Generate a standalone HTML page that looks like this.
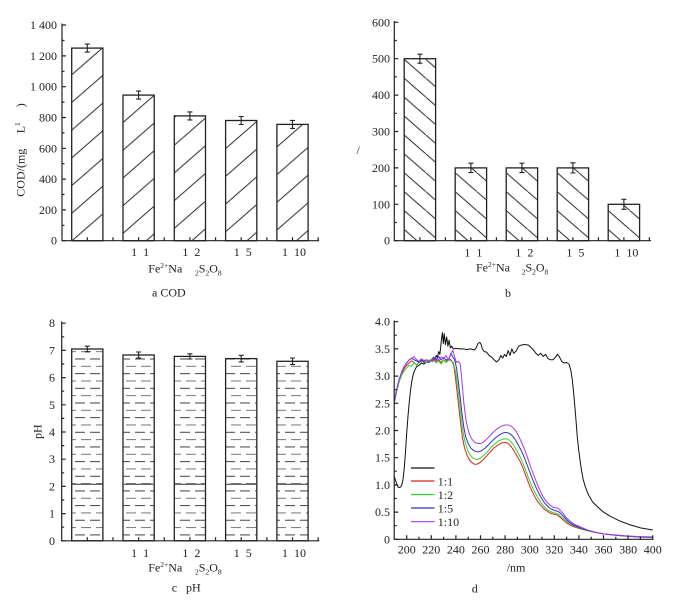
<!DOCTYPE html>
<html><head><meta charset="utf-8"><style>
html,body{margin:0;padding:0;background:#fff;}
svg{display:block;}
text{font-family:"Liberation Serif","Times New Roman",serif;font-size:12px;fill:#222;}
</style></head><body>
<svg width="677" height="605" viewBox="0 0 677 605" xmlns="http://www.w3.org/2000/svg">
<rect width="677" height="605" fill="#fff"/>
<defs>
<!-- panel a hatch "/" -->
<pattern id="pa0" patternUnits="userSpaceOnUse" x="71.7" y="241" width="31.8" height="27.7"><line x1="-1" y1="28.57" x2="32.8" y2="-0.87" stroke="#222" stroke-width="1"/></pattern>
<pattern id="pa1" patternUnits="userSpaceOnUse" x="123" y="233.3" width="31.8" height="27.7"><line x1="-1" y1="28.57" x2="32.8" y2="-0.87" stroke="#222" stroke-width="1"/></pattern>
<pattern id="pa2" patternUnits="userSpaceOnUse" x="174.3" y="228.3" width="31.8" height="27.7"><line x1="-1" y1="28.57" x2="32.8" y2="-0.87" stroke="#222" stroke-width="1"/></pattern>
<pattern id="pa3" patternUnits="userSpaceOnUse" x="225.6" y="231.7" width="31.8" height="27.7"><line x1="-1" y1="28.57" x2="32.8" y2="-0.87" stroke="#222" stroke-width="1"/></pattern>
<pattern id="pa4" patternUnits="userSpaceOnUse" x="276.9" y="230" width="31.8" height="27.7"><line x1="-1" y1="28.57" x2="32.8" y2="-0.87" stroke="#222" stroke-width="1"/></pattern>
<!-- panel b hatch "\" -->
<pattern id="pb0" patternUnits="userSpaceOnUse" x="404.2" y="78.3" width="21.7" height="18.9"><line x1="-1" y1="-0.87" x2="22.7" y2="19.77" stroke="#222" stroke-width="1"/></pattern>
<pattern id="pb1" patternUnits="userSpaceOnUse" x="455.2" y="78.3" width="21.7" height="18.9"><line x1="-1" y1="-0.87" x2="22.7" y2="19.77" stroke="#222" stroke-width="1"/></pattern>
<pattern id="pb2" patternUnits="userSpaceOnUse" x="506.2" y="78.3" width="21.7" height="18.9"><line x1="-1" y1="-0.87" x2="22.7" y2="19.77" stroke="#222" stroke-width="1"/></pattern>
<pattern id="pb3" patternUnits="userSpaceOnUse" x="557.2" y="78.3" width="21.7" height="18.9"><line x1="-1" y1="-0.87" x2="22.7" y2="19.77" stroke="#222" stroke-width="1"/></pattern>
<pattern id="pb4" patternUnits="userSpaceOnUse" x="608.2" y="78.3" width="21.7" height="18.9"><line x1="-1" y1="-0.87" x2="22.7" y2="19.77" stroke="#222" stroke-width="1"/></pattern>
<!-- panel c hatch dashes -->
<pattern id="pc" patternUnits="userSpaceOnUse" x="0" y="358" width="15" height="14.66">
<line x1="0" y1="1" x2="10" y2="1" stroke="#444" stroke-width="1"/>
<line x1="6" y1="8.33" x2="15" y2="8.33" stroke="#777" stroke-width="1"/>
<line x1="0" y1="8.33" x2="1" y2="8.33" stroke="#777" stroke-width="1"/>
</pattern>
</defs>

<!-- ================= PANEL A ================= -->
<g stroke="#222" stroke-width="1.3" fill="#fff">
<rect x="71.7" y="48.1" width="31.2" height="192.6" fill="url(#pa0)"/>
<rect x="123" y="95.1" width="31.2" height="145.6" fill="url(#pa1)"/>
<rect x="174.3" y="115.9" width="31.2" height="124.8" fill="url(#pa2)"/>
<rect x="225.6" y="120.5" width="31.2" height="120.2" fill="url(#pa3)"/>
<rect x="276.9" y="124.4" width="31.2" height="116.3" fill="url(#pa4)"/>
</g>
<g stroke="#222" stroke-width="1.1" fill="none">
<path d="M87.3 44.1V52.1M84.8 44.1H89.8M84.8 52.1H89.8"/>
<path d="M138.6 91.1V99.1M136.1 91.1H141.1M136.1 99.1H141.1"/>
<path d="M189.9 111.9V119.9M187.4 111.9H192.4M187.4 119.9H192.4"/>
<path d="M241.2 116.5V124.5M238.7 116.5H243.7M238.7 124.5H243.7"/>
<path d="M292.5 120.4V128.4M290 120.4H295M290 128.4H295"/>
</g>
<g stroke="#222" stroke-width="1.2" fill="none">
<path d="M62 23.5V240.7H319"/>
<path d="M62 240.7h4M62 209.9h4M62 179.1h4M62 148.3h4M62 117.5h4M62 86.7h4M62 55.9h4M62 25h4"/>
<path d="M62 225.3h2.5M62 194.5h2.5M62 163.7h2.5M62 132.9h2.5M62 102.1h2.5M62 71.3h2.5M62 40.5h2.5"/>
<path d="M87.3 240.7v-3.5M112.95 240.7v-3.5M138.6 240.7v-3.5M164.25 240.7v-3.5M189.9 240.7v-3.5M215.55 240.7v-3.5M241.2 240.7v-3.5M266.85 240.7v-3.5M292.5 240.7v-3.5M318.15 240.7v-3.5"/>
</g>
<g text-anchor="end">
<text x="57" y="244.7">0</text>
<text x="57" y="213.9">200</text>
<text x="57" y="183.1">400</text>
<text x="57" y="152.3">600</text>
<text x="57" y="121.5">800</text>
<text x="57" y="90.7">1 000</text>
<text x="57" y="59.9">1 200</text>
<text x="57" y="29">1 400</text>
</g>
<g text-anchor="middle">
<text x="140.1" y="256">1&#160;&#160;1</text>
<text x="191.4" y="256">1&#160;&#160;2</text>
<text x="242.7" y="256">1&#160;&#160;5</text>
<text x="294" y="256">1&#160;&#160;10</text>
</g>
<text x="148.3" y="272.7">Fe<tspan font-size="7.5" dy="-4.5">2+</tspan><tspan dy="4.5">Na</tspan></text>
<text x="195" y="272.7"><tspan font-size="7.5" dy="3">2</tspan><tspan dy="-3">S</tspan><tspan font-size="7.5" dy="3">2</tspan><tspan dy="-3">O</tspan><tspan font-size="7.5" dy="3">8</tspan></text>
<text x="152" y="296.5">a COD</text>
<text transform="translate(24.5,196.7) rotate(-90)">COD/(mg<tspan x="63.4">L</tspan><tspan font-size="7.5" dy="-4.5">1</tspan><tspan x="89.5" dy="4.5">)</tspan></text>

<!-- ================= PANEL B ================= -->
<g stroke="#222" stroke-width="1.3" fill="#fff">
<rect x="404.2" y="58.7" width="31.4" height="182" fill="url(#pb0)"/>
<rect x="455.2" y="167.9" width="31.4" height="72.8" fill="url(#pb1)"/>
<rect x="506.2" y="167.9" width="31.4" height="72.8" fill="url(#pb2)"/>
<rect x="557.2" y="167.9" width="31.4" height="72.8" fill="url(#pb3)"/>
<rect x="608.2" y="204.3" width="31.4" height="36.4" fill="url(#pb4)"/>
</g>
<g stroke="#222" stroke-width="1.1" fill="none">
<path d="M419.9 54.2V63.2M417.4 54.2H422.4M417.4 63.2H422.4"/>
<path d="M470.9 163.2V172.6M468.4 163.2H473.4M468.4 172.6H473.4"/>
<path d="M521.9 163.2V172.6M519.4 163.2H524.4M519.4 172.6H524.4"/>
<path d="M572.9 162.8V173M570.4 162.8H575.4M570.4 173H575.4"/>
<path d="M623.9 199.3V209.3M621.4 199.3H626.4M621.4 209.3H626.4"/>
</g>
<g stroke="#222" stroke-width="1.2" fill="none">
<path d="M394.3 21V240.7H651"/>
<path d="M394.3 240.7h4M394.3 204.3h4M394.3 167.9h4M394.3 131.5h4M394.3 95.1h4M394.3 58.7h4M394.3 22.3h4"/>
<path d="M394.3 222.5h2.5M394.3 186.1h2.5M394.3 149.7h2.5M394.3 113.3h2.5M394.3 76.9h2.5M394.3 40.5h2.5"/>
<path d="M419.9 240.7v-3.5M445.4 240.7v-3.5M470.9 240.7v-3.5M496.4 240.7v-3.5M521.9 240.7v-3.5M547.4 240.7v-3.5M572.9 240.7v-3.5M598.4 240.7v-3.5M623.9 240.7v-3.5M649.4 240.7v-3.5"/>
</g>
<g text-anchor="end">
<text x="390" y="244.7">0</text>
<text x="390" y="208.3">100</text>
<text x="390" y="171.9">200</text>
<text x="390" y="135.5">300</text>
<text x="390" y="99.1">400</text>
<text x="390" y="62.7">500</text>
<text x="390" y="26.3">600</text>
</g>
<g text-anchor="middle">
<text x="473.4" y="256.5">1&#160;&#160;1</text>
<text x="524.4" y="256.5">1&#160;&#160;2</text>
<text x="575.4" y="256.5">1&#160;&#160;5</text>
<text x="626.4" y="256.5">1&#160;&#160;10</text>
</g>
<text x="476" y="271.7">Fe<tspan font-size="7.5" dy="-4.5">2+</tspan><tspan dy="4.5">Na</tspan></text>
<text x="521.7" y="271.7"><tspan font-size="7.5" dy="3">2</tspan><tspan dy="-3">S</tspan><tspan font-size="7.5" dy="3">2</tspan><tspan dy="-3">O</tspan><tspan font-size="7.5" dy="3">8</tspan></text>
<text x="505" y="297">b</text>
<text x="356.5" y="154" font-size="10">/</text>

<!-- ================= PANEL C ================= -->
<g stroke="#222" stroke-width="1.3" fill="#fff">
<rect x="71.7" y="349" width="31.2" height="191.8" fill="url(#pc)"/>
<rect x="123" y="355" width="31.2" height="185.8" fill="url(#pc)"/>
<rect x="174.3" y="356.4" width="31.2" height="184.4" fill="url(#pc)"/>
<rect x="225.6" y="358.6" width="31.2" height="182.2" fill="url(#pc)"/>
<rect x="276.9" y="361.3" width="31.2" height="179.5" fill="url(#pc)"/>
</g>
<g stroke="#333" stroke-width="1" fill="none">
<path d="M72.5 484.2h29.6M123.8 484.2h29.6M175.1 484.2h29.6M226.4 484.2h29.6M277.7 484.2h29.6"/>
</g>
<g stroke="#222" stroke-width="1.1" fill="none">
<path d="M87.3 346.2V351.8M84.8 346.2H89.8M84.8 351.8H89.8"/>
<path d="M138.6 352V358M136.1 352H141.1M136.1 358H141.1"/>
<path d="M189.9 353.8V359M187.4 353.8H192.4M187.4 359H192.4"/>
<path d="M241.2 355.3V361.9M238.7 355.3H243.7M238.7 361.9H243.7"/>
<path d="M292.5 358V364.6M290 358H295M290 364.6H295"/>
</g>
<g stroke="#222" stroke-width="1.2" fill="none">
<path d="M61.7 321.5V540.8H319.3"/>
<path d="M61.7 540.8h4M61.7 513.6h4M61.7 486.4h4M61.7 459.2h4M61.7 432h4M61.7 404.8h4M61.7 377.6h4M61.7 350.4h4M61.7 323.2h4"/>
<path d="M61.7 527.2h2.5M61.7 500h2.5M61.7 472.8h2.5M61.7 445.6h2.5M61.7 418.4h2.5M61.7 391.2h2.5M61.7 364h2.5M61.7 336.8h2.5"/>
<path d="M87.3 540.8v-3.5M112.95 540.8v-3.5M138.6 540.8v-3.5M164.25 540.8v-3.5M189.9 540.8v-3.5M215.55 540.8v-3.5M241.2 540.8v-3.5M266.85 540.8v-3.5M292.5 540.8v-3.5M318.15 540.8v-3.5"/>
</g>
<g text-anchor="end">
<text x="55" y="544.8">0</text>
<text x="55" y="517.6">1</text>
<text x="55" y="490.4">2</text>
<text x="55" y="463.2">3</text>
<text x="55" y="436">4</text>
<text x="55" y="408.8">5</text>
<text x="55" y="381.6">6</text>
<text x="55" y="354.4">7</text>
<text x="55" y="327.2">8</text>
</g>
<g text-anchor="middle">
<text x="140.1" y="557">1&#160;&#160;1</text>
<text x="191.4" y="557">1&#160;&#160;2</text>
<text x="242.7" y="557">1&#160;&#160;5</text>
<text x="294" y="557">1&#160;&#160;10</text>
</g>
<text x="148.3" y="571.7">Fe<tspan font-size="7.5" dy="-4.5">2+</tspan><tspan dy="4.5">Na</tspan></text>
<text x="195" y="571.7"><tspan font-size="7.5" dy="3">2</tspan><tspan dy="-3">S</tspan><tspan font-size="7.5" dy="3">2</tspan><tspan dy="-3">O</tspan><tspan font-size="7.5" dy="3">8</tspan></text>
<text x="171.7" y="591.7">c</text>
<text x="186" y="591.7">pH</text>
<text transform="translate(41.5,431.7) rotate(-90)" text-anchor="middle">pH</text>

<!-- ================= PANEL D ================= -->
<g fill="none" stroke-linejoin="round" transform="matrix(1.23,0,0,-54.4,160.7,539.3)">
<polyline vector-effect="non-scaling-stroke" stroke="#111" stroke-width="1" points="190,1.15 191,1.08 192,1 193,0.96 194,0.95 195,0.96 196,1 197,1.1 198,1.3 199,1.6 200,1.95 201,2.25 202,2.5 203,2.72 204,2.88 205,3 206,3.08 207,3.13 208,3.17 210,3.2 212,3.24 214,3.22 216,3.26 218,3.25 220,3.3 221,3.27 222,3.32 223,3.3 224,3.38 225,3.35 226,3.45 227,3.4 228,3.62 229,3.8 229.8,3.6 230.5,3.78 231.5,3.58 232.5,3.72 233.5,3.55 234.5,3.66 235.5,3.52 236.5,3.55 238,3.5 240,3.51 243,3.5 246,3.5 249,3.49 252,3.5 255,3.48 256.5,3.52 258,3.6 259.5,3.62 260.5,3.58 261.5,3.5 263,3.45 265,3.44 267,3.38 269,3.35 271,3.3 273,3.26 275,3.3 276.5,3.38 278,3.33 279.5,3.4 281,3.36 282.5,3.47 284,3.38 285.5,3.5 287,3.42 289,3.46 291,3.55 293,3.57 296,3.58 299,3.57 301,3.53 303,3.48 305,3.42 307,3.38 309,3.42 311,3.36 313,3.4 315,3.32 317,3.3 319,3.3 321,3.35 322.5,3.4 324,3.36 326,3.27 328,3.24 330,3.25 332,3.22 333.5,3.1 334.5,2.95 335.5,2.75 336.5,2.5 337.6,2.2 338.7,1.88 339.8,1.65 340.9,1.46 342,1.28 343.5,1.1 345,0.98 347.5,0.83 351,0.69 355,0.6 360,0.5 365,0.43 373,0.34 381,0.27 390,0.21 400,0.17"/>
<polyline vector-effect="non-scaling-stroke" stroke="#d9261c" stroke-width="1" points="190,2.52 192,2.75 194,2.92 196,3.05 198,3.14 200,3.2 202,3.24 204,3.28 206,3.25 208,3.2 210,3.26 212,3.28 214,3.25 216,3.3 218,3.28 220,3.3 222,3.33 224,3.27 226,3.3 228,3.25 230,3.3 232,3.27 234,3.32 236,3.3 238,3.22 239.5,3 241,2.7 242.5,2.4 244,2.1 245.5,1.85 247,1.68 249,1.55 251,1.46 253,1.41 255,1.38 257,1.38 259,1.4 262,1.46 265,1.53 268,1.61 271,1.68 274,1.73 277,1.77 280,1.78 282,1.77 284,1.73 286,1.67 288,1.6 290,1.52 292,1.44 294,1.34 296,1.22 298,1.1 300,0.98 302,0.88 304,0.79 306,0.71 308,0.65 310,0.6 312,0.55 314,0.52 316,0.49 318,0.47 320,0.46 322,0.45 324,0.42 326,0.38 328,0.34 330,0.3 333,0.26 336,0.23 340,0.2 345,0.17 350,0.14 355,0.12 360,0.1 370,0.075 380,0.055 390,0.04 400,0.035"/>
<polyline vector-effect="non-scaling-stroke" stroke="#2fd42f" stroke-width="1" points="190,2.5 192,2.73 194,2.9 196,3.02 198,3.1 200,3.15 202,3.2 204,3.18 206,3.25 208,3.2 210,3.28 212,3.25 214,3.3 216,3.25 218,3.3 220,3.27 222,3.3 224,3.24 226,3.28 228,3.22 230,3.3 232,3.25 234,3.3 236,3.28 238,3.25 240,3.05 241.5,2.8 243,2.5 244.5,2.2 246,1.95 247.5,1.78 249.5,1.64 251.5,1.55 254,1.49 256,1.47 258,1.47 260,1.49 263,1.55 266,1.62 269,1.7 272,1.76 275,1.81 278,1.84 281,1.85 283,1.83 285,1.79 287,1.73 289,1.65 291,1.57 293,1.48 295,1.37 297,1.25 299,1.13 301,1.02 303,0.92 305,0.83 307,0.75 309,0.68 311,0.62 313,0.57 315,0.53 317,0.51 319,0.49 321,0.48 323,0.47 325,0.43 327,0.39 329,0.35 331,0.31 334,0.27 337,0.24 341,0.2 345,0.17 350,0.14 355,0.12 360,0.1 370,0.075 380,0.055 390,0.04 400,0.035"/>
<polyline vector-effect="non-scaling-stroke" stroke="#2a35c8" stroke-width="1" points="190,2.55 192,2.78 194,2.95 196,3.08 198,3.18 200,3.24 202,3.3 204,3.33 206,3.3 208,3.28 210,3.25 212,3.3 214,3.27 216,3.3 218,3.25 220,3.3 222,3.35 224,3.3 226,3.36 228,3.3 230,3.34 232,3.3 234,3.3 236,3.42 237.5,3.35 239,3.3 240.5,3.15 242,2.9 243.5,2.6 245,2.3 246.5,2.05 248,1.88 250,1.76 252,1.68 254.5,1.63 257,1.61 259,1.61 261,1.63 264,1.68 267,1.75 270,1.82 273,1.88 276,1.93 279,1.96 282,1.96 284,1.94 286,1.9 288,1.84 290,1.76 292,1.68 294,1.59 296,1.48 298,1.36 300,1.24 302,1.12 304,1.01 306,0.91 308,0.82 310,0.74 312,0.67 314,0.62 316,0.58 318,0.55 320,0.53 322,0.52 324,0.5 326,0.46 328,0.41 330,0.36 332,0.32 335,0.27 338,0.24 342,0.2 346,0.17 350,0.15 355,0.12 360,0.1 370,0.075 380,0.055 390,0.045 400,0.04"/>
<polyline vector-effect="non-scaling-stroke" stroke="#a63be8" stroke-width="1" points="190,2.52 192,2.76 194,2.95 196,3.08 198,3.18 200,3.25 202,3.3 204,3.32 206,3.36 208,3.3 210,3.27 212,3.32 214,3.28 216,3.3 218,3.26 220,3.3 222,3.28 224,3.33 226,3.3 228,3.35 230,3.32 232,3.38 234,3.3 236,3.4 237.5,3.48 239,3.35 240.5,3.25 242,3.27 243.5,3.22 244.5,3 245.5,2.75 246.5,2.5 248,2.22 249.5,2.05 251,1.93 253,1.84 255.5,1.78 258,1.76 260,1.76 262,1.78 265,1.84 268,1.91 271,1.98 274,2.04 277,2.08 280,2.1 283,2.1 285,2.08 287,2.04 289,1.98 291,1.9 293,1.8 295,1.7 297,1.58 299,1.45 301,1.32 303,1.2 305,1.08 307,0.97 309,0.87 311,0.78 313,0.71 315,0.66 317,0.62 319,0.59 321,0.58 323,0.57 325,0.53 327,0.48 329,0.42 331,0.37 333,0.33 336,0.28 339,0.25 342,0.22 346,0.18 350,0.15 355,0.12 360,0.1 370,0.08 380,0.06 390,0.05 400,0.045"/>
</g>
<g stroke="#222" stroke-width="1.2" fill="none">
<path d="M394.2 320.5V539.3H653.5"/>
<path d="M394.2 539.3h4M394.2 512.1h4M394.2 484.9h4M394.2 457.7h4M394.2 430.5h4M394.2 403.3h4M394.2 376.1h4M394.2 348.9h4M394.2 321.7h4"/>
<path d="M394.2 525.7h2.5M394.2 498.5h2.5M394.2 471.3h2.5M394.2 444.1h2.5M394.2 416.9h2.5M394.2 389.7h2.5M394.2 362.5h2.5M394.2 335.3h2.5"/>
<path d="M406.7 539.3v-4M431.3 539.3v-4M455.9 539.3v-4M480.5 539.3v-4M505.1 539.3v-4M529.7 539.3v-4M554.3 539.3v-4M578.9 539.3v-4M603.5 539.3v-4M628.1 539.3v-4M652.7 539.3v-4"/>
<path d="M419 539.3v-2.5M443.6 539.3v-2.5M468.2 539.3v-2.5M492.8 539.3v-2.5M517.4 539.3v-2.5M542 539.3v-2.5M566.6 539.3v-2.5M591.2 539.3v-2.5M615.8 539.3v-2.5M640.4 539.3v-2.5"/>
</g>
<g text-anchor="end">
<text x="390" y="543.3">0</text>
<text x="390" y="516.1">0.5</text>
<text x="390" y="488.9">1.0</text>
<text x="390" y="461.7">1.5</text>
<text x="390" y="434.5">2.0</text>
<text x="390" y="407.3">2.5</text>
<text x="390" y="380.1">3.0</text>
<text x="390" y="352.9">3.5</text>
<text x="390" y="325.7">4.0</text>
</g>
<g text-anchor="middle">
<text x="406.7" y="553.5">200</text>
<text x="431.3" y="553.5">220</text>
<text x="455.9" y="553.5">240</text>
<text x="480.5" y="553.5">260</text>
<text x="505.1" y="553.5">280</text>
<text x="529.7" y="553.5">300</text>
<text x="554.3" y="553.5">320</text>
<text x="578.9" y="553.5">340</text>
<text x="603.5" y="553.5">360</text>
<text x="628.1" y="553.5">380</text>
<text x="652.7" y="553.5">400</text>
</g>
<text x="506.7" y="571.7">/nm</text>
<text x="471.7" y="592.3">d</text>
<!-- legend -->
<g stroke-width="1.2">
<line x1="411" y1="468" x2="434.5" y2="468" stroke="#111"/>
<line x1="411" y1="481" x2="434.5" y2="481" stroke="#d9261c"/>
<line x1="411" y1="494.5" x2="434.5" y2="494.5" stroke="#2fd42f"/>
<line x1="411" y1="508" x2="434.5" y2="508" stroke="#2a35c8"/>
<line x1="411" y1="521.7" x2="434.5" y2="521.7" stroke="#a63be8"/>
</g>
<text x="437.8" y="485.3">1:1</text>
<text x="437.8" y="498.8">1:2</text>
<text x="437.8" y="512.3">1:5</text>
<text x="437.8" y="526">1:10</text>
</svg>
</body></html>
